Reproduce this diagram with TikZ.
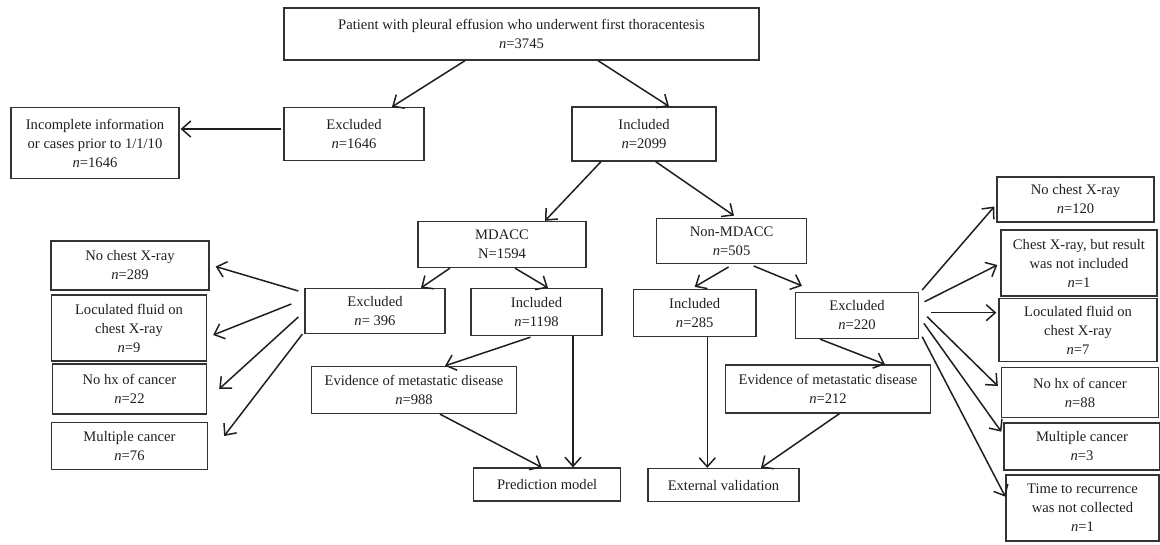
\documentclass[tikz,border=0pt]{standalone}
\usepackage{fontspec}
\setmainfont{Liberation Serif}
\usetikzlibrary{arrows.meta,calc}
\begin{document}
\begin{tikzpicture}[x=1pt,y=-1pt,
  box/.style={draw=black!80, line width=1.3pt, align=center, inner sep=0pt,
    font=\fontsize{14.6}{19}\selectfont, text=black!88},
  sz/.style 2 args={minimum width=#1pt, minimum height=#2pt},
  arr/.style={draw=black!88, line width=1.5pt, -{Straight Barb[length=9pt,width=16pt]}},
]
\useasboundingbox (0,0) rectangle (1160,544);

\node[box,sz={475}{52}] (top) at (521.5,34) {Patient with pleural effusion who underwent first thoracentesis\\\textit{n}=3745};
\node[box,sz={140}{53}] (excl1) at (354,134) {Excluded\\\textit{n}=1646};
\node[box,sz={168}{71}] (inc) at (95,143) {Incomplete information\\or cases prior to 1/1/10\\\textit{n}=1646};
\node[box,sz={144}{54}] (incl1) at (644,134) {Included\\\textit{n}=2099};
\node[box,sz={168}{46}] (mdacc) at (502,244.5) {MDACC\\N=1594};
\node[box,sz={150}{45}] (non) at (731.6,240.8) {Non-MDACC\\\textit{n}=505};
\node[box,sz={140}{45}] (exclM) at (375,311) {Excluded\\\textit{n}= 396};
\node[box,sz={131}{47}] (inclM) at (536.5,312) {Included\\\textit{n}=1198};
\node[box,sz={122.5}{47}] (inclN) at (694.7,313) {Included\\\textit{n}=285};
\node[box,sz={123}{46}] (exclN) at (857,315.5) {Excluded\\\textit{n}=220};
\node[box,sz={158}{49}] (ncL) at (130,265.5) {No chest X-ray\\\textit{n}=289};
\node[box,sz={155}{66}] (locL) at (129,328) {Loculated fluid on\\chest X-ray\\\textit{n}=9};
\node[box,sz={154}{50}] (nhL) at (129.5,389) {No hx of cancer\\\textit{n}=22};
\node[box,sz={156}{47}] (mcL) at (129.5,446) {Multiple cancer\\\textit{n}=76};
\node[box,sz={205}{47}] (evM) at (414,390) {Evidence of metastatic disease\\\textit{n}=988};
\node[box,sz={147}{33}] (pred) at (547.2,484.5) {Prediction model};
\node[box,sz={151}{33}] (ext) at (723.5,485) {External validation};
\node[box,sz={205}{48}] (evN) at (828,389) {Evidence of metastatic disease\\\textit{n}=212};
\node[box,sz={157}{45}] (ncR) at (1075.5,199.5) {No chest X-ray\\\textit{n}=120};
\node[box,sz={156}{66}] (cxR) at (1079,263) {Chest X-ray, but result\\was not included\\\textit{n}=1};
\node[box,sz={158}{63}] (locR) at (1078,330) {Loculated fluid on\\chest X-ray\\\textit{n}=7};
\node[box,sz={157}{50}] (nhR) at (1080,392.5) {No hx of cancer\\\textit{n}=88};
\node[box,sz={156}{47}] (mcR) at (1082,446.5) {Multiple cancer\\\textit{n}=3};
\node[box,sz={153}{66}] (tmR) at (1082.5,508) {Time to recurrence\\was not collected\\\textit{n}=1};

\coordinate (vM) at ($(inclM.south)+(36.5,0)$);
\coordinate (vN) at ($(inclN.south)+(12.6,0)$);

% top level
\draw[arr] ($(top.south)+(-56.5,0)$) -- ($(excl1.north)+(38,0)$);
\draw[arr] ($(top.south)+(76.5,0)$) -- ($(incl1.north)+(25,0)$);
\draw[arr] ($(excl1.west)+(-2,-5)$) -- ($(inc.east)+(1,-14)$);
\draw[arr] ($(incl1.south)+(-43,0)$) -- ($(mdacc.north)+(43,0)$);
\draw[arr] ($(incl1.south)+(11.7,0)$) -- ($(non.north)+(2.4,-2)$);
% MDACC
\draw[arr] ($(mdacc.south)+(-52,0)$) -- ($(exclM.north)+(46,0)$);
\draw[arr] ($(mdacc.south)+(13,0)$) -- ($(inclM.north)+(11.5,0)$);
\draw[arr] ($(exclM.west)+(-6,-20)$) -- ($(ncL.east)+(6,1)$);
\draw[arr] ($(exclM.west)+(-13,-7)$) -- ($(locL.east)+(6,7)$);
\draw[arr] ($(exclM.west)+(-6,6)$) -- ($(nhL.east)+(12,0)$);
\draw[arr] ($(exclM.south west)+(-2,0)$) -- ($(mcL.east)+(16,-10)$);
\draw[arr] ($(inclM.south)+(-6,1)$) -- ($(evM.north)+(31,0)$);
\draw[arr] (vM) -- (vM |- pred.north);
\draw[arr] ($(evM.south)+(26,0)$) -- ($(pred.north)+(-5.5,0)$);
% Non-MDACC
\draw[arr] ($(non.south)+(-3,3)$) -- ($(inclN.north)+(0,-2)$);
\draw[arr] ($(non.south)+(22,2)$) -- ($(exclN.north)+(-55,-6)$);
\draw[arr] (vN) -- (vN |- ext.north);
\draw[arr] ($(evN.south)+(11.4,0)$) -- ($(ext.north)+(37.5,0)$);
\draw[arr] ($(exclN.south)+(-37,0)$) -- ($(evN.north)+(57,0)$);
\draw[arr] ($(exclN.east)+(3,-25.5)$) -- ($(ncR.west)+(-2,7)$);
\draw[arr] ($(exclN.east)+(5.4,-13.8)$) -- ($(cxR.west)+(-3,2)$);
\draw[arr] ($(exclN.east)+(12,-2.8)$) -- ($(locR.west)+(-2,-17.3)$);
\draw[arr] ($(exclN.east)+(8,1.2)$) -- ($(nhR.west)+(-3,-6.5)$);
\draw[arr] ($(exclN.east)+(4.7,7.8)$) -- ($(mcR.west)+(-2,-14.8)$);
\draw[arr] ($(exclN.east)+(3,21.2)$) -- ($(tmR.west)+(0,-11.3)$);
\end{tikzpicture}
\end{document}
